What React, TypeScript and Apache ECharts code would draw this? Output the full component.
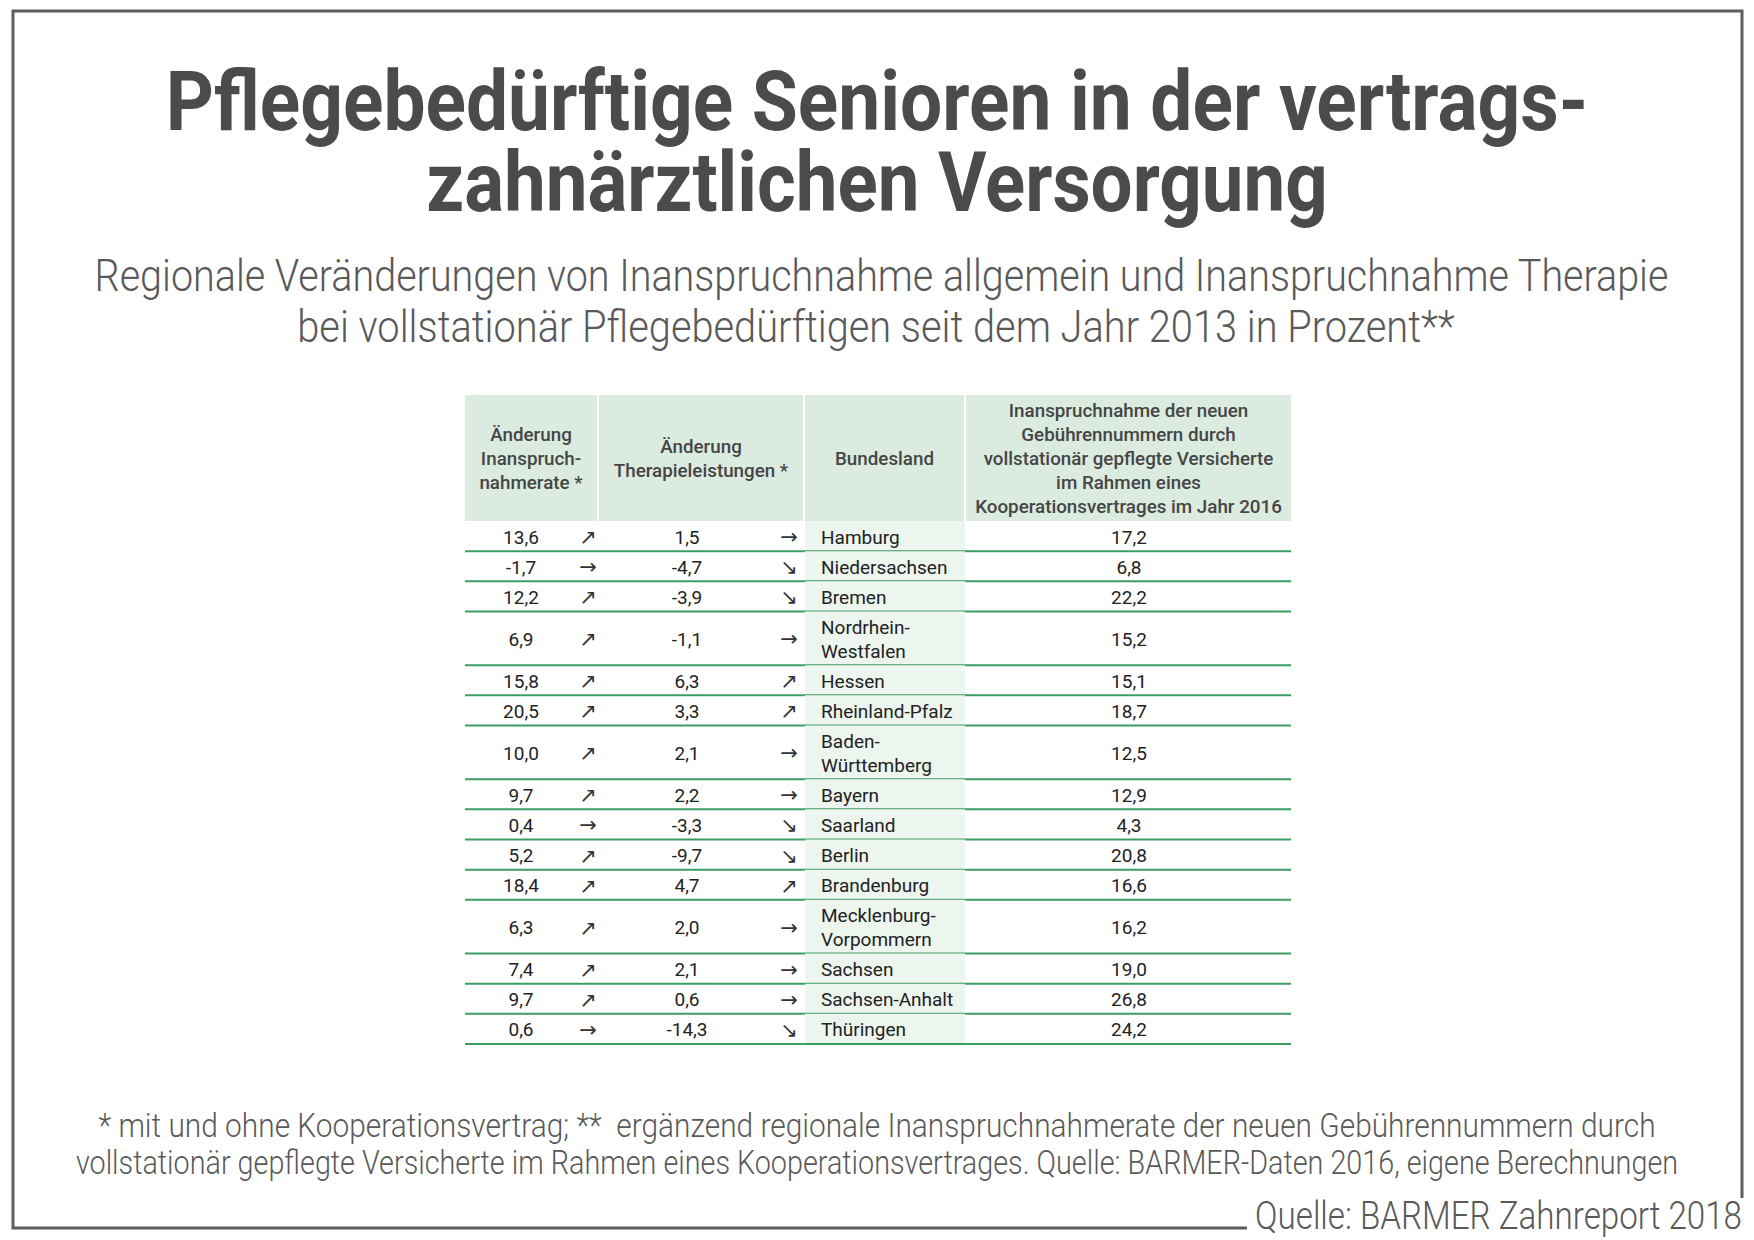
import React, { useEffect, useRef } from "react";
import * as echarts from "echarts";

// ---------- texts ----------
const titleLines = ["Pflegebedürftige Senioren in der vertrags-", "zahnärztlichen Versorgung"];
const subtitleLines = [
  "Regionale Veränderungen von Inanspruchnahme allgemein und Inanspruchnahme Therapie",
  "bei vollstationär Pflegebedürftigen seit dem Jahr 2013 in Prozent**",
];
const footnoteLines = [
  "* mit und ohne Kooperationsvertrag; **  ergänzend regionale Inanspruchnahmerate der neuen Gebührennummern durch",
  "vollstationär gepflegte Versicherte im Rahmen eines Kooperationsvertrages. Quelle: BARMER-Daten 2016, eigene Berechnungen",
];
const sourceText = "Quelle: BARMER Zahnreport 2018";
const headerTexts = [
  "Änderung\nInanspruch-\nnahmerate *",
  "Änderung\nTherapieleistungen *",
  "Bundesland",
  "Inanspruchnahme der neuen\nGebührennummern durch\nvollstationär gepflegte Versicherte\nim Rahmen eines\nKooperationsvertrages im Jahr 2016",
];

// ---------- data ----------
const states = [
  "Hamburg",
  "Niedersachsen",
  "Bremen",
  "Nordrhein-\nWestfalen",
  "Hessen",
  "Rheinland-Pfalz",
  "Baden-\nWürttemberg",
  "Bayern",
  "Saarland",
  "Berlin",
  "Brandenburg",
  "Mecklenburg-\nVorpommern",
  "Sachsen",
  "Sachsen-Anhalt",
  "Thüringen",
];
const inanspruchnahmeChange = [13.6, -1.7, 12.2, 6.9, 15.8, 20.5, 10.0, 9.7, 0.4, 5.2, 18.4, 6.3, 7.4, 9.7, 0.6];
const inanspruchnahmeTrend = ["up", "flat", "up", "up", "up", "up", "up", "up", "flat", "up", "up", "up", "up", "up", "flat"];
const therapieChange = [1.5, -4.7, -3.9, -1.1, 6.3, 3.3, 2.1, 2.2, -3.3, -9.7, 4.7, 2.0, 2.1, 0.6, -14.3];
const therapieTrend = ["flat", "down", "down", "flat", "up", "up", "flat", "flat", "down", "down", "up", "flat", "flat", "flat", "down"];
const kooperationsRate = [17.2, 6.8, 22.2, 15.2, 15.1, 18.7, 12.5, 12.9, 4.3, 20.8, 16.6, 16.2, 19.0, 26.8, 24.2];

const arrowGlyph: Record<string, string> = { up: "\u2197", flat: "\u2192", down: "\u2198" };
const fmt = (v: number) => v.toFixed(1).replace(".", ",");

// ---------- layout ----------
const W = 1754;
const H = 1240;
const TABLE_LEFT = 465;
const TABLE_WIDTH = 826;
const HEADER_TOP = 395;
const HEADER_BOTTOM = 520;
const BODY_TOP = 521;
const BODY_BOTTOM = 1044;
const DOUBLE_ROW_UNITS = 1.78;
// column positions, in x-axis units (offset from the table's left edge)
const COL = { v1: 56, a1: 123, v2: 222, a2: 324, bgL: 340, bgR: 500, state: 356, v4: 664 };
const HEADER_COLS = [
  [0, 132],
  [134, 338],
  [340, 499],
  [501, 826],
];

const GREEN_LINE = "#3a9e63";
const HEADER_BG = "#dcebdf";
const STATE_BG = "#ecf5ee";
const BODY_TEXT = "#222222";
const HEADER_TEXT = "#454545";
const TITLE_COLOR = "#4b4b4b";
const SUB_COLOR = "#595959";

const rowUnits = states.map((s) => (s.includes("\n") ? DOUBLE_ROW_UNITS : 1));
const rowStart: number[] = [];
rowUnits.reduce((acc, u, i) => {
  rowStart[i] = acc;
  return acc + u;
}, 0);
const totalUnits = rowUnits.reduce((a, b) => a + b, 0);

let measureCtx: CanvasRenderingContext2D | null = null;
function fitScale(text: string, weight: string | number, size: number, family: string, target: number) {
  if (!measureCtx) measureCtx = document.createElement("canvas").getContext("2d");
  if (!measureCtx) return 1;
  measureCtx.font = `${weight} ${size}px ${family}`;
  const w = measureCtx.measureText(text).width;
  return w > 0 ? target / w : 1;
}

function fittedText(
  text: string,
  x: number,
  y: number,
  target: number,
  size: number,
  weight: string | number,
  family: string,
  fill: string,
  align: "center" | "right" | "left" = "center"
) {
  const s = fitScale(text, weight, size, family, target);
  return {
    type: "text",
    x,
    y,
    scaleX: s,
    silent: true,
    style: {
      text,
      fontSize: size,
      fontWeight: weight,
      fontFamily: family,
      fill,
      align,
      verticalAlign: "middle",
    },
  };
}

export default function App() {
  const ref = useRef<HTMLDivElement>(null);

  useEffect(() => {
    document.body.style.margin = "0";
    if (!ref.current) return;
    const chart = echarts.init(ref.current, undefined, { renderer: "svg" });

    const graphics: any[] = [];
    // frame
    graphics.push({
      type: "polyline",
      silent: true,
      shape: {
        points: [
          [1247, 1228],
          [13, 1228],
          [13, 11],
          [1742, 11],
          [1742, 1198],
        ],
      },
      style: { stroke: "#5e5e5e", lineWidth: 3, fill: null },
    });
    // titles
    graphics.push(fittedText(titleLines[0], 877, 102, 1423, 83, "bold", "Roboto", TITLE_COLOR));
    graphics.push(fittedText(titleLines[1], 877, 183, 902, 83, "bold", "Roboto", TITLE_COLOR));
    graphics.push(fittedText(subtitleLines[0], 881.5, 276, 1575, 44, 300, "Roboto", SUB_COLOR));
    graphics.push(fittedText(subtitleLines[1], 876, 327, 1157, 44, 300, "Roboto", SUB_COLOR));
    graphics.push(fittedText(footnoteLines[0], 877, 1125, 1557, 34, 300, "Roboto", SUB_COLOR));
    graphics.push(fittedText(footnoteLines[1], 877, 1163, 1602, 34, 300, "Roboto", SUB_COLOR));
    graphics.push(fittedText(sourceText, 1742, 1216, 487, 39, 300, "Roboto", SUB_COLOR, "right"));

    // header cells
    HEADER_COLS.forEach(([l, r], i) => {
      graphics.push({
        type: "rect",
        silent: true,
        shape: { x: TABLE_LEFT + l, y: HEADER_TOP, width: r - l, height: HEADER_BOTTOM - HEADER_TOP + 1 },
        style: { fill: HEADER_BG },
      });
      graphics.push({
        type: "text",
        silent: true,
        x: TABLE_LEFT + (l + r) / 2,
        y: (HEADER_TOP + HEADER_BOTTOM) / 2 + 1,
        style: {
          text: headerTexts[i],
          fontSize: 18.8,
          fontWeight: 500,
          fontFamily: "Roboto",
          lineHeight: 24,
          fill: HEADER_TEXT,
          align: "center",
          verticalAlign: "middle",
        },
      });
    });

    const rowData = states.map((_, i) => [0, rowStart[i], i]);

    const option: any = {
      animation: false,
      backgroundColor: "#ffffff",
      grid: {
        left: TABLE_LEFT,
        top: BODY_TOP,
        width: TABLE_WIDTH,
        height: BODY_BOTTOM - BODY_TOP,
        containLabel: false,
      },
      xAxis: { type: "value", min: 0, max: TABLE_WIDTH, show: false },
      yAxis: { type: "value", min: 0, max: totalUnits, inverse: true, show: false },
      graphic: graphics,
      series: [
        {
          type: "custom",
          coordinateSystem: "cartesian2d",
          clip: false,
          silent: true,
          data: rowData,
          encode: { x: 0, y: 1 },
          renderItem: (_params: any, api: any) => {
            const i = api.value(2);
            const y0 = rowStart[i];
            const y1 = y0 + rowUnits[i];
            const top = api.coord([0, y0])[1];
            const bottom = api.coord([0, y1])[1];
            const mid = (top + bottom) / 2;
            const px = (u: number) => api.coord([u, 0])[0];
            const txt = (
              text: string,
              xu: number,
              align: string,
              family = "Roboto",
              size = 19,
              extra: any = {}
            ) => ({
              type: "text",
              x: px(xu),
              y: mid + 1,
              style: {
                text,
                fontSize: size,
                fontFamily: family,
                fill: BODY_TEXT,
                align,
                verticalAlign: "middle",
                lineHeight: 24,
                ...extra,
              },
            });
            return {
              type: "group",
              children: [
                {
                  type: "rect",
                  shape: { x: px(COL.bgL), y: top, width: px(COL.bgR) - px(COL.bgL), height: bottom - top },
                  style: { fill: STATE_BG },
                },
                txt(fmt(inanspruchnahmeChange[i]), COL.v1, "center"),
                txt(arrowGlyph[inanspruchnahmeTrend[i]], COL.a1, "center", "DejaVu Sans", 21, { fill: "#333333" }),
                txt(fmt(therapieChange[i]), COL.v2, "center"),
                txt(arrowGlyph[therapieTrend[i]], COL.a2, "center", "DejaVu Sans", 21, { fill: "#333333" }),
                txt(states[i], COL.state, "left"),
                txt(fmt(kooperationsRate[i]), COL.v4, "center"),
                {
                  type: "line",
                  shape: { x1: px(0), y1: bottom, x2: px(TABLE_WIDTH), y2: bottom },
                  style: { stroke: GREEN_LINE, lineWidth: 2 },
                },
              ],
            };
          },
        },
      ],
    };

    chart.setOption(option);
    return () => chart.dispose();
  }, []);

  return <div ref={ref} style={{ width: W, height: H }} />;
}
